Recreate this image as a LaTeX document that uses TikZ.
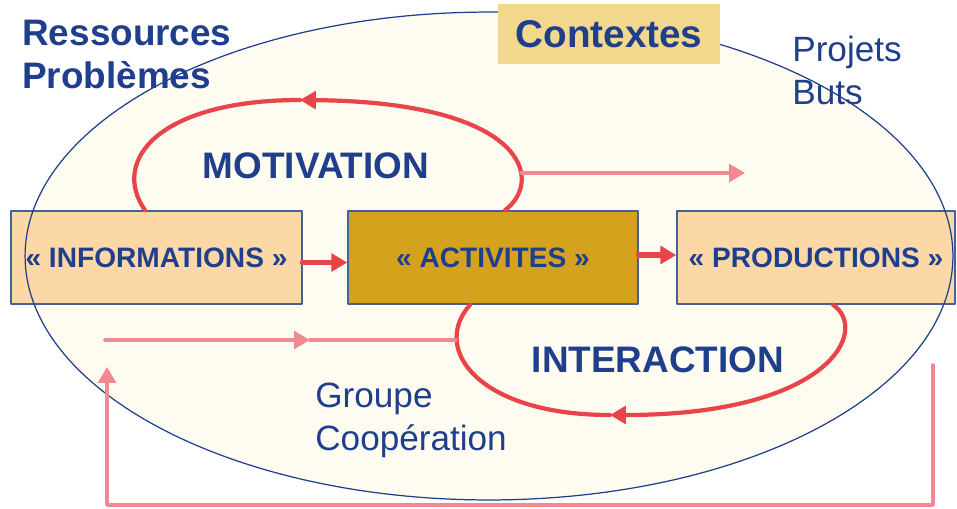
\documentclass[tikz,border=0pt]{standalone}
\usepackage{fontspec}
\setmainfont{Liberation Sans}
\usetikzlibrary{arrows.meta}
\definecolor{navy}{HTML}{1F3F8C}
\definecolor{edge}{HTML}{46609A}
\definecolor{cream}{HTML}{FEFBF0}
\definecolor{peach}{HTML}{FBD8A6}
\definecolor{gold}{HTML}{D4A21C}
\definecolor{sand}{HTML}{F2D88C}
\definecolor{redline}{HTML}{E8444A}
\definecolor{pinkline}{HTML}{F08A90}
\begin{document}
\begin{tikzpicture}[x=0.02cm,y=-0.02cm, line join=round, line cap=round,
    box/.style={draw=edge, line width=0.9pt, minimum height=1.86cm, inner sep=0pt,
      text=navy, font=\fontsize{16}{19}\selectfont\bfseries},
    big/.style={text=navy, font=\fontsize{21}{24}\selectfont\bfseries},
    plain/.style={text=navy, align=left, inner sep=0pt, font=\fontsize{20}{24}\selectfont},
    loopline/.style={draw=redline, line width=2.4pt},
    pinkarrow/.style={draw=pinkline, line width=2pt},
    tip/.style={-{Triangle[length=9pt,width=10pt]}}]
    \useasboundingbox (0,0) rectangle (957,508);
    % ellipse background
    \fill[cream] (489,256) ellipse [x radius=9.28cm, y radius=4.88cm];
    \node[box, fill=peach, minimum width=5.82cm] (info) at (156.5,257.5) {« INFORMATIONS »};
    \node[box, fill=gold, minimum width=5.8cm] (act) at (493,257.5) {« ACTIVITES »};
    \node[box, fill=peach, minimum width=5.56cm] (prod) at (816,257.5) {« PRODUCTIONS »};
    \draw[navy, line width=0.7pt] (489,256) ellipse [x radius=9.28cm, y radius=4.88cm];
    \node[fill=sand, minimum width=4.46cm, minimum height=1.2cm, text=navy,
      font=\fontsize{22}{26}\selectfont\bfseries] (ctx) at (609,34) {Contextes};
    % labels
    \node[big, align=left, inner sep=0pt, anchor=base west] (res) at (22,88) {Ressources\\Problèmes};
    \node[plain, anchor=base west] (proj) at (792,104) {Projets\\Buts};
    \node[plain, anchor=base west] (grp) at (315,450) {Groupe\\Coopération};
    \node[big, anchor=base] (mot) at (316,178) {MOTIVATION};
    \node[big, anchor=base] (inter) at (658,372) {INTERACTION};
    % arrows between boxes
    \draw[loopline, line width=3.4pt, tip] ([yshift=-0.1cm]info.east) -- ([yshift=-0.1cm]act.west);
    \draw[loopline, line width=3.4pt, tip] ([yshift=0.05cm]act.east) -- ([yshift=0.05cm]prod.west);
    % motivation loop
    \coordinate (mtop) at (300,100);
    \coordinate (mright) at (521,173);
    \draw[loopline, tip] ([xshift=0.24cm]act.north) .. controls (545,180) and (525,102) .. (mtop);
    \draw[loopline] (mtop) .. controls (160,100) and (110,160) .. ([xshift=-0.23cm]info.north);
    \coordinate (pend) at (745,173);
    \draw[pinkarrow, tip] (mright) -- (pend);
    % interaction loop
    \coordinate (ibot) at (610,415);
    \coordinate (ileft) at (456,340);
    \draw[loopline, tip] ([xshift=0.34cm]prod.south) .. controls (870,330) and (830,415) .. (ibot);
    \draw[loopline] (ibot) .. controls (480,415) and (430,350) .. ([xshift=-0.46cm]act.south);
    \coordinate (gstart) at (105,340);
    \coordinate (gmid) at (310,340);
    \draw[pinkarrow, tip] (gstart) -- (gmid);
    \draw[pinkarrow] (gmid) -- (ileft);
    % feedback
    \coordinate (fb1) at (933,365);
    \coordinate (fb2) at (107,367);
    \draw[pinkarrow, tip] (fb1) -- (933,505) -- (107,505) -- (fb2);
\end{tikzpicture}
\end{document}
